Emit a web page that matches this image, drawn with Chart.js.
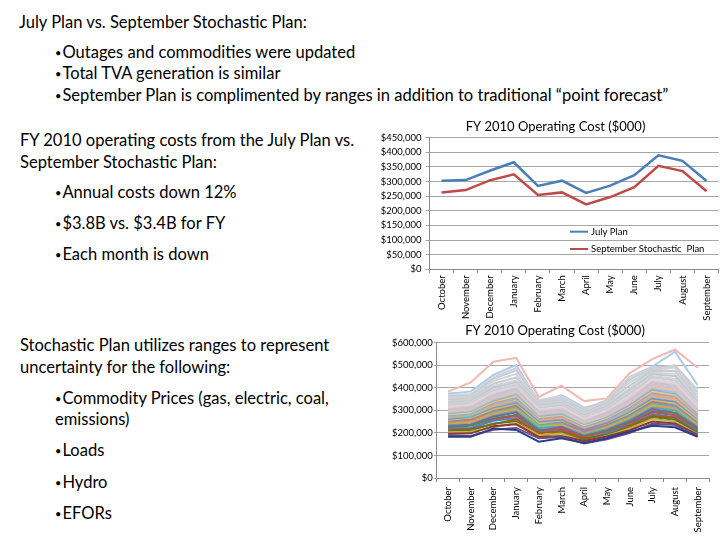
<!DOCTYPE html>
<html>
<head>
<meta charset="utf-8">
<script src="https://cdn.jsdelivr.net/npm/chart.js@4"></script>
<style>
html,body{margin:0;padding:0;background:#fff;}
#page{position:relative;width:720px;height:540px;overflow:hidden;font-family:Lato,"Open Sans",sans-serif;color:#000;}
.t{position:absolute;white-space:nowrap;font-size:16.5px;line-height:20px;height:20px;transform-origin:0 50%;}
.b{font-size:11px;position:relative;top:-1px;margin-right:1px;}
#c1{position:absolute;left:360px;top:112px;}
#c2{position:absolute;left:360px;top:318px;}
</style>
</head>
<body>
<div id="page">
  <div class="t" data-w="288" style="left:19px;top:11.7px">July Plan vs. September Stochastic Plan:</div>
  <div class="t" data-w="303" style="left:55px;top:41.7px"><span class="b">•</span>Outages and commodities were updated</div>
  <div class="t" data-w="225" style="left:55px;top:62.7px"><span class="b">•</span>Total TVA generation is similar</div>
  <div class="t" data-w="625" style="left:55px;top:85px"><span class="b">•</span>September Plan is complimented by ranges in addition to traditional “point forecast”</div>

  <div class="t" data-w="332" style="left:20px;top:130px">FY 2010 operating costs from the July Plan vs.</div>
  <div class="t" data-w="198" style="left:20px;top:151.7px">September Stochastic Plan:</div>
  <div class="t" data-w="178" style="left:55px;top:181.7px"><span class="b">•</span>Annual costs down 12%</div>
  <div class="t" data-w="162" style="left:55px;top:213px"><span class="b">•</span>$3.8B vs. $3.4B for FY</div>
  <div class="t" data-w="153" style="left:55px;top:244px"><span class="b">•</span>Each month is down</div>

  <div class="t" data-w="310" style="left:20px;top:335px">Stochastic Plan utilizes ranges to represent</div>
  <div class="t" data-w="212" style="left:20px;top:356.7px">uncertainty for the following:</div>
  <div class="t" data-w="277" style="left:55px;top:388px"><span class="b">•</span>Commodity Prices (gas, electric, coal,</div>
  <div class="t" data-w="77" style="left:55px;top:409px">emissions)</div>
  <div class="t" data-w="48" style="left:55px;top:440px"><span class="b">•</span>Loads</div>
  <div class="t" data-w="50" style="left:55px;top:471.5px"><span class="b">•</span>Hydro</div>
  <div class="t" data-w="52" style="left:55px;top:502.7px"><span class="b">•</span>EFORs</div>

  <canvas id="c1" width="360" height="215"></canvas>
  <canvas id="c2" width="360" height="222"></canvas>
</div>
<script>
// ---------------- data ----------------
const months = ['October','November','December','January','February','March','April','May','June','July','August','September'];

const julyPlan = [303000, 305000, 337000, 366000, 285000, 303000, 261000, 286000, 322000, 390000, 371000, 302000];
const septemberStochasticPlan = [263000, 271000, 304000, 325000, 254000, 263000, 222000, 247000, 281000, 354000, 336000, 267000];

const chartTitle = 'FY 2010 Operating Cost ($000)';
const topSeriesNames = ['July Plan', 'September Stochastic  Plan'];

// stochastic scenarios (operating cost, $000)
const scenarioCosts = [
  [183000,183000,220000,213000,161000,176000,155000,176000,205000,232000,225000,183000],
  [190000,186000,214000,222000,176000,182000,153000,172000,199000,240000,236000,186000],
  [196000,198000,230000,238000,182000,186000,164000,184000,212000,250000,242000,192000],
  [203000,205000,226000,244000,190000,197000,162000,186000,220000,262000,250000,195000],
  [208000,212000,242000,252000,186000,201000,172000,192000,224000,270000,258000,202000],
  [212000,216000,238000,260000,198000,206000,176000,190000,232000,276000,266000,200000],
  [218000,222000,254000,266000,202000,210000,170000,200000,236000,284000,270000,210000],
  [222000,220000,258000,276000,206000,218000,182000,204000,242000,292000,278000,214000],
  [226000,232000,264000,280000,214000,214000,186000,210000,246000,296000,288000,218000],
  [230000,236000,272000,290000,210000,226000,184000,212000,252000,306000,290000,224000],
  [234000,238000,276000,296000,222000,228000,192000,216000,258000,312000,300000,226000],
  [238000,246000,282000,300000,220000,234000,196000,220000,262000,318000,306000,232000],
  [242000,248000,288000,308000,230000,238000,194000,226000,268000,326000,310000,236000],
  [246000,250000,292000,312000,234000,244000,202000,228000,274000,330000,318000,240000],
  [250000,258000,296000,320000,232000,246000,206000,234000,278000,338000,322000,244000],
  [254000,262000,304000,326000,242000,250000,204000,236000,284000,344000,330000,250000],
  [258000,264000,308000,330000,246000,256000,212000,242000,288000,350000,336000,252000],
  [262000,272000,312000,338000,250000,258000,214000,246000,294000,356000,340000,258000],
  [266000,274000,320000,342000,254000,264000,218000,248000,298000,364000,348000,262000],
  [270000,280000,324000,350000,258000,266000,222000,254000,304000,370000,352000,266000],
  [274000,282000,330000,354000,262000,272000,224000,258000,310000,376000,360000,272000],
  [278000,288000,334000,362000,266000,276000,230000,262000,314000,382000,366000,274000],
  [282000,290000,340000,366000,270000,280000,232000,266000,320000,390000,372000,280000],
  [286000,296000,344000,372000,274000,286000,236000,270000,324000,396000,380000,284000],
  [290000,300000,350000,378000,278000,288000,240000,274000,330000,402000,386000,288000],
  [295000,304000,356000,384000,284000,294000,244000,280000,336000,410000,392000,294000],
  [300000,310000,362000,390000,288000,300000,248000,284000,342000,416000,400000,298000],
  [305000,314000,368000,396000,294000,304000,252000,290000,348000,424000,408000,304000],
  [310000,320000,374000,402000,298000,310000,256000,294000,356000,430000,416000,310000],
  [316000,326000,380000,404000,304000,316000,262000,300000,364000,438000,424000,316000],
  [322000,330000,386000,410000,310000,322000,266000,306000,372000,446000,432000,322000],
  [328000,336000,392000,416000,316000,328000,272000,312000,380000,452000,440000,330000],
  [334000,342000,400000,424000,322000,334000,278000,318000,390000,460000,452000,338000],
  [340000,348000,408000,432000,328000,340000,284000,326000,398000,466000,462000,346000],
  [348000,352000,418000,446000,332000,346000,290000,334000,410000,474000,476000,356000],
  [356000,360000,430000,462000,336000,352000,296000,340000,424000,480000,490000,370000],
  [362000,366000,440000,478000,340000,356000,302000,346000,436000,486000,500000,380000],
  [368000,372000,448000,488000,346000,362000,306000,344000,446000,490000,498000,392000],
  [375000,383000,457000,501000,338000,368000,312000,338000,449000,494000,560000,412000],
  [383000,424000,516000,533000,360000,409000,341000,353000,464000,527000,570000,489000]
];

const scenarioColors = [
  '#2A3F8C','#6B4E8A','#8C3836','#C4B43C','#5F7530','#B65708','#4F81BD','#C0504D','#4D8A6A','#8064A2',
  '#4BACC6','#F79646','#9BBB59','#729ACA','#CD7371','#AFC97A','#9983B5','#6FBDD1','#F9AA6B','#95B3D7',
  '#D99694','#C3D69B','#B2A2C7','#93CDDD','#FAC090','#B9CDE5','#E6B9B8','#CCC1DA','#C9D8E8','#F2D0C8',
  '#C8CCD4','#D0D4DA','#C4C9D0','#CED3DB','#C6CBD2','#D2D2D2','#C9CDD3','#CDD6E2','#AFCBEA','#F2B8B2'
];

// ---------------- fit slide text ----------------
(function(){
  const els = Array.from(document.querySelectorAll('.t'));
  let tgt = 0, act = 0;
  els.forEach(e => { tgt += +e.dataset.w; act += e.getBoundingClientRect().width; });
  const k = tgt / act;
  els.forEach(e => { e.style.transform = 'scaleX(' + k.toFixed(4) + ')'; });
})();

// ---------------- helpers ----------------
const FONT = 'Lato';
const money = v => '$' + Number(v).toLocaleString('en-US');

const plotTitle = {
  id: 'plotTitle',
  afterDraw(chart, args, opts) {
    const c = chart.ctx;
    c.save();
    c.font = opts.size + 'px ' + FONT;
    c.fillStyle = '#000';
    c.textAlign = 'center';
    c.textBaseline = 'middle';
    c.fillText(opts.text, opts.x, opts.y);
    c.restore();
  }
};

const innerLegend = {
  id: 'innerLegend',
  afterDatasetsDraw(chart, args, opts) {
    if (!opts.show) return;
    const c = chart.ctx, a = chart.chartArea;
    c.save();
    c.font = '9.5px ' + FONT;
    c.textBaseline = 'middle';
    c.textAlign = 'left';
    chart.data.datasets.forEach((ds, i) => {
      const y = a.top + opts.dy + i * opts.gap;
      const x0 = a.left + opts.dx;
      c.strokeStyle = ds.borderColor;
      c.lineWidth = 2;
      c.beginPath(); c.moveTo(x0, y); c.lineTo(x0 + 18, y); c.stroke();
      c.fillStyle = '#000';
      c.fillText(ds.label, x0 + 21, y);
    });
    c.restore();
  }
};

function baseScales(yMax, yStep, yWidth, xHeight, yTickLen, yPad, xPad) {
  return {
    x: {
      offset: true,
      grid: { offset: true, drawOnChartArea: false, drawTicks: true, tickLength: 4, color: '#8c8c8c' },
      border: { color: '#8c8c8c' },
      ticks: { minRotation: 90, maxRotation: 90, autoSkip: false, color: '#000', padding: xPad, font: { family: FONT, size: 9.5 } },
      afterFit(s) { s.height = xHeight; }
    },
    y: {
      min: 0, max: yMax,
      grid: { color: '#a6a6a6', tickLength: yTickLen, lineWidth: 1 },
      border: { color: '#8c8c8c' },
      ticks: { stepSize: yStep, color: '#000', padding: yPad, font: { family: FONT, size: 9.5 }, callback: money },
      afterFit(s) { s.width = yWidth; }
    }
  };
}

// ---------------- chart 1 ----------------
new Chart(document.getElementById('c1'), {
  type: 'line',
  data: {
    labels: months,
    datasets: [
      { label: topSeriesNames[0], data: julyPlan, borderColor: '#4A7EBB', borderWidth: 2.5, pointRadius: 0, tension: 0, fill: false },
      { label: topSeriesNames[1], data: septemberStochasticPlan, borderColor: '#BE4B48', borderWidth: 2.5, pointRadius: 0, tension: 0, fill: false }
    ]
  },
  options: {
    responsive: false, animation: false, devicePixelRatio: 1,
    layout: { padding: { left: 0, right: 0, top: 25.7, bottom: 0 } },
    plugins: {
      legend: { display: false }, tooltip: { enabled: false }, title: { display: false },
      plotTitle: { text: chartTitle, x: 195.5, y: 14.7, size: 13 },
      innerLegend: { show: true, dx: 140.5, dy: 94, gap: 17.3 }
    },
    scales: baseScales(450000, 50000, 69.5, 57.7, 4, 4, 2)
  },
  plugins: [plotTitle, innerLegend]
});

// ---------------- chart 2 ----------------
new Chart(document.getElementById('c2'), {
  type: 'line',
  data: {
    labels: months,
    datasets: scenarioCosts.map((vals, i) => ({
      label: 'Scenario ' + (i + 1), data: vals,
      borderColor: scenarioColors[i % scenarioColors.length],
      borderWidth: 2, pointRadius: 0, tension: 0, fill: false
    }))
  },
  options: {
    responsive: false, animation: false, devicePixelRatio: 1,
    layout: { padding: { left: 0, right: 11, top: 24.7, bottom: 0 } },
    plugins: {
      legend: { display: false }, tooltip: { enabled: false }, title: { display: false },
      plotTitle: { text: chartTitle, x: 195, y: 13, size: 13 },
      innerLegend: { show: false }
    },
    scales: baseScales(600000, 100000, 76.7, 62, 3, 1, 5)
  },
  plugins: [plotTitle, innerLegend]
});
</script>
</body>
</html>
